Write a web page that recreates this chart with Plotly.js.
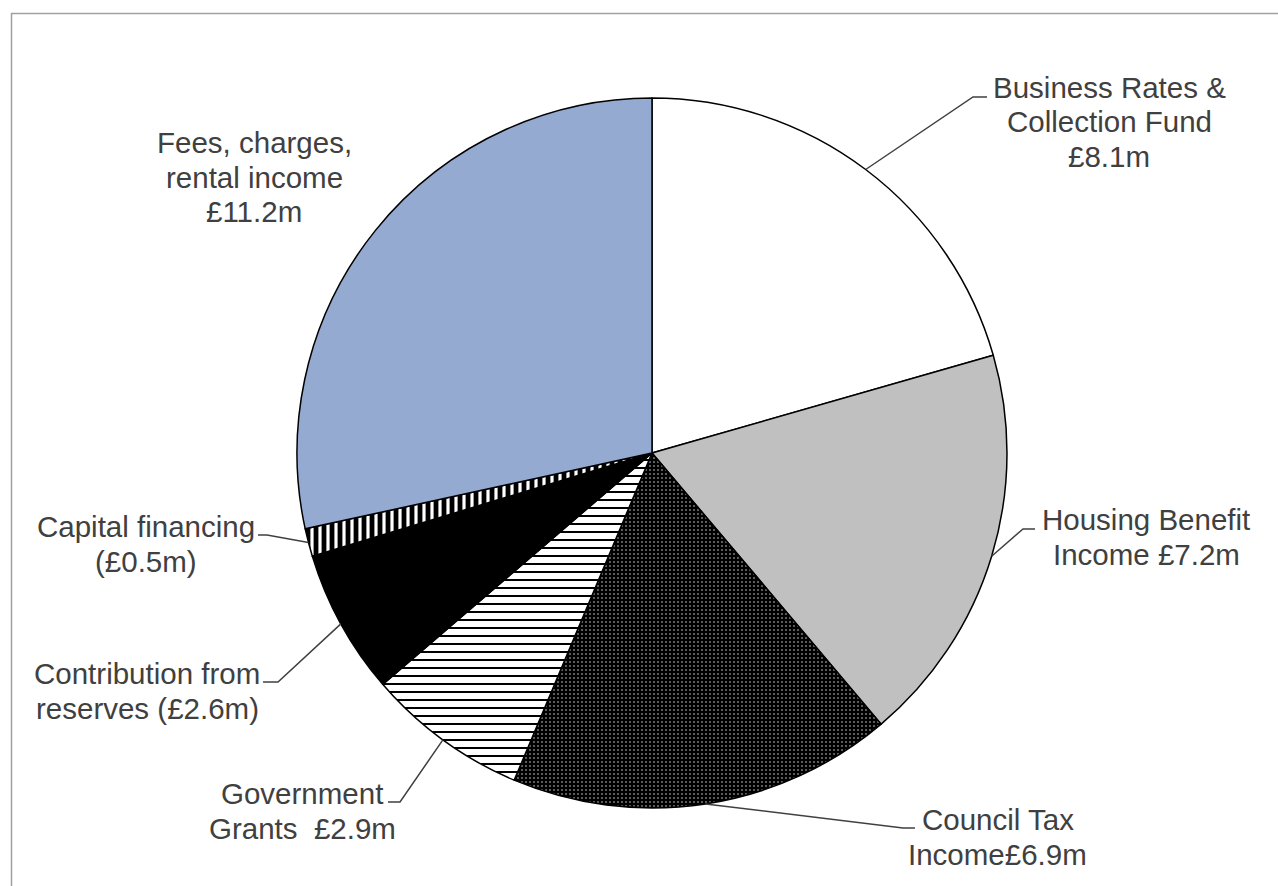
<!DOCTYPE html>
<html>
<head>
<meta charset="utf-8">
<script src="https://cdn.plot.ly/plotly-3.0.1.min.js"></script>
<style>html,body{margin:0;padding:0;background:#fff;}#chart{width:1278px;height:886px;}</style>
</head>
<body>
<div id="chart"></div>
<script>
// ---- data ----
var categories = ["Business Rates & Collection Fund", "Housing Benefit Income", "Council Tax Income",
  "Government Grants", "Contribution from reserves", "Capital financing", "Fees, charges, rental income"];
var values = [8.1, 7.2, 6.9, 2.9, 2.6, 0.5, 11.2];
var labelTexts = [
  "Business Rates &<br>Collection Fund<br>£8.1m",
  "Housing Benefit<br>Income £7.2m",
  "Council Tax<br>Income£6.9m",
  "Government<br>Grants\u00a0 £2.9m",
  "Contribution from<br>reserves (£2.6m)",
  "Capital financing<br>(£0.5m)",
  "Fees, charges,<br>rental income<br>£11.2m"
];

// ---- styles / layout ----
var W = 1278, H = 886;
var cx = 652, cy = 453, R = 355;
var lineGap = 34.5;
var fillColors = ["#ffffff", "#c0c0c0", "#000000", "#ffffff", "#000000", "#ffffff", "#94aad1"];
var patShapes = ["", "", ".", "-", "", "|", ""];
var patBg = ["#ffffff", "#c0c0c0", "#000000", "#ffffff", "#000000", "#ffffff", "#94aad1"];
var patFg = ["#000000", "#000000", "#ffffff", "#000000", "#000000", "#000000", "#000000"];
var patSize = [8, 8, 4, 8, 8, 8, 8];
var patSolid = [0.3, 0.3, 0.09, 0.25, 0.3, 0.6, 0.3];

// label centres and leader elbows (pixels)
var labelPos = [[1109, 122], [1146, 537], [998, 837], [302, 811], [147, 691], [146, 544], [254, 177]];
var elbows = [[[973, 97], [987, 97]], [[1023, 529], [1035, 529]], [[903, 828], [915, 828]],
  [[400, 802], [388, 802]], [[278, 682], [263, 682]], [[267, 535], [258, 535]], null];

function px(x) { return x / W; }
function py(y) { return 1 - y / H; }

var total = values.reduce(function (a, b) { return a + b; }, 0);
var shapes = [{
  type: "rect", xref: "paper", yref: "paper",
  x0: px(11.5), x1: px(W + 20), y0: py(H + 20), y1: py(13.5),
  line: { color: "#a0a0a0", width: 1.5 }, fillcolor: "rgba(0,0,0,0)", layer: "below"
}];
var annotations = [];
var cum = 0;
for (var i = 0; i < values.length; i++) {
  var mid = (cum + values[i] / 2) / total * 2 * Math.PI;
  cum += values[i];
  var sx = cx + R * Math.sin(mid), sy = cy - R * Math.cos(mid);
  if (elbows[i]) {
    var e = elbows[i];
    shapes.push({
      type: "path", xref: "paper", yref: "paper",
      path: "M" + px(sx) + "," + py(sy) + " L" + px(e[0][0]) + "," + py(e[0][1]) + " L" + px(e[1][0]) + "," + py(e[1][1]),
      line: { color: "#404040", width: 1.5 }
    });
  }
  var lines = labelTexts[i].split("<br>");
  for (var k = 0; k < lines.length; k++) {
    var yy = labelPos[i][1] + (k - (lines.length - 1) / 2) * lineGap;
    annotations.push({
      xref: "paper", yref: "paper",
      x: px(labelPos[i][0]), y: py(yy),
      xanchor: "center", yanchor: "middle", align: "center",
      text: lines[k], showarrow: false,
      font: { family: "Liberation Sans, Arial, sans-serif", size: 29.5, color: "#404040" }
    });
  }
}

var trace = {
  type: "pie",
  labels: categories,
  values: values,
  sort: false,
  direction: "clockwise",
  rotation: 0,
  textinfo: "none",
  hoverinfo: "none",
  domain: { x: [px(cx - R), px(cx + R)], y: [py(cy + R), py(cy - R)] },
  marker: {
    colors: fillColors,
    line: { color: "#000000", width: 1.5 },
    pattern: { shape: patShapes, bgcolor: patBg, fgcolor: patFg, size: patSize, solidity: patSolid, fillmode: "replace" }
  }
};

var layout = {
  width: W, height: H,
  margin: { l: 0, r: 0, t: 0, b: 0 },
  paper_bgcolor: "#ffffff",
  showlegend: false,
  shapes: shapes,
  annotations: annotations
};

Plotly.newPlot("chart", [trace], layout, { staticPlot: true, displayModeBar: false });
</script>
</body>
</html>
